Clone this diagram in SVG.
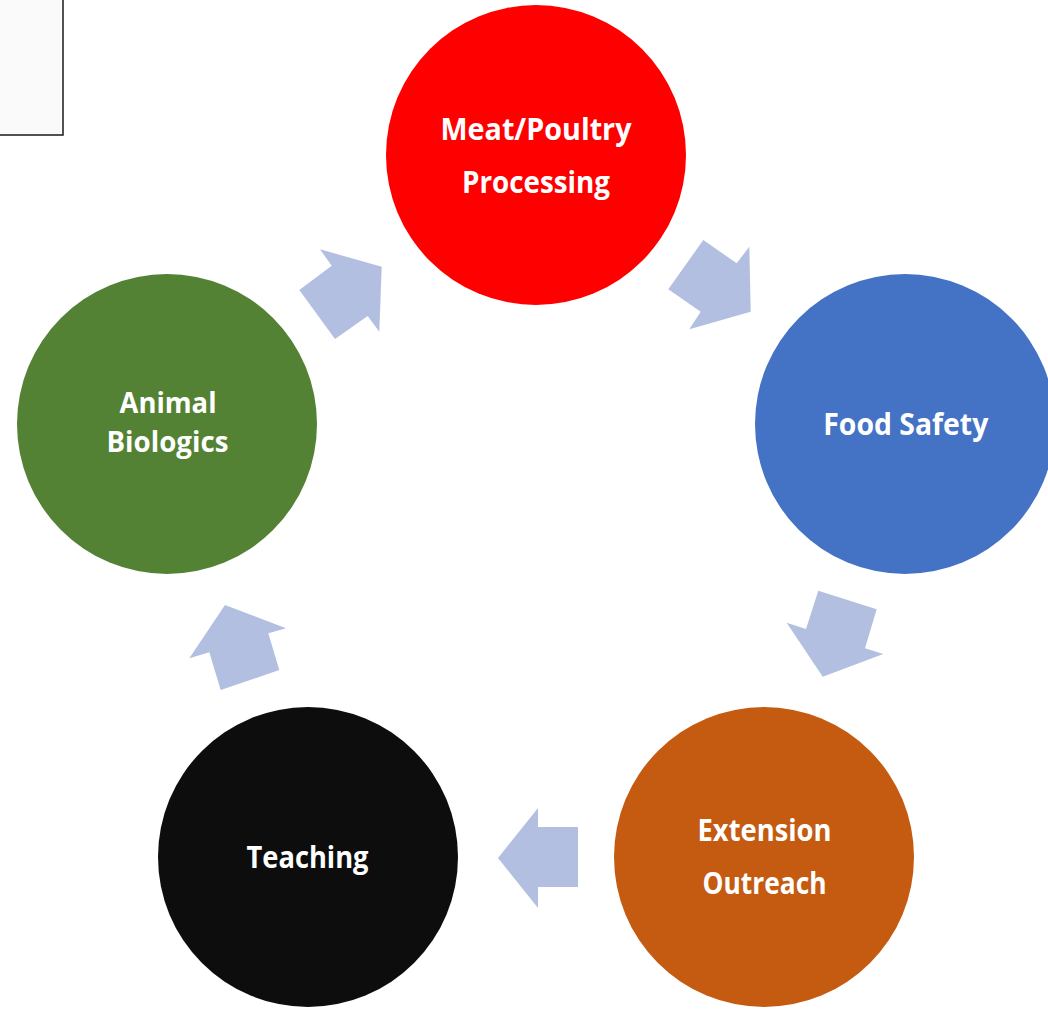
<svg xmlns="http://www.w3.org/2000/svg" width="1048" height="1009" viewBox="0 0 1048 1009">
<style>
.lbl{font-family:"Open Sans","Noto Sans","DejaVu Sans",sans-serif;font-weight:bold;font-size:31px;fill:#ffffff;text-anchor:middle}
.sm{font-size:28px}
.arr{fill:#B2BFE0}
</style>
<rect x="0" y="0" width="1048" height="1009" fill="#ffffff"/>
<g id="corner-box">
<rect x="-2" y="-2" width="65" height="137" fill="#fafafa" stroke="#1a1a1a" stroke-width="1.5"/>
</g>
<g id="connectors">
<polygon class="arr" points="320,249.3 381.7,266.7 379.3,331.7 367.7,316 335,339 299.3,290 331.7,265.7"/>
<polygon class="arr" points="703.3,240 736.7,263.3 749.3,246.7 750.7,311.7 689.3,329.3 700.7,311.7 668.3,289.3"/>
<polygon class="arr" points="818.3,590.7 876.7,609.3 865,648.3 883.3,654 822.7,676.7 786.7,622.7 806,629"/>
<polygon class="arr" points="538,808 538,827 578,827 578,887 538,887 538,908 498,858"/>
<polygon class="arr" points="225,605 286,628.3 268.3,633.3 279.3,670 220.7,690 209.3,652.3 189.3,658.3"/>
</g>
<g id="node-meat">
<circle cx="536" cy="155" r="150" fill="#FF0000"/>
<text class="lbl"><tspan x="536" y="140" textLength="191" lengthAdjust="spacingAndGlyphs">Meat/Poultry</tspan><tspan x="536" y="193" textLength="148" lengthAdjust="spacingAndGlyphs">Processing</tspan></text>
</g>
<g id="node-food">
<circle cx="905" cy="424" r="150" fill="#4472C4"/>
<text class="lbl" x="905.8" y="435" textLength="165" lengthAdjust="spacingAndGlyphs">Food Safety</text>
</g>
<g id="node-extension">
<circle cx="764" cy="857" r="150" fill="#C55A11"/>
<text class="lbl"><tspan x="764.5" y="841" textLength="134" lengthAdjust="spacingAndGlyphs">Extension</tspan><tspan x="764.5" y="894" textLength="124" lengthAdjust="spacingAndGlyphs">Outreach</tspan></text>
</g>
<g id="node-teaching">
<circle cx="308" cy="857" r="150" fill="#0D0D0D"/>
<text class="lbl" x="307.5" y="868" textLength="122" lengthAdjust="spacingAndGlyphs">Teaching</text>
</g>
<g id="node-animal">
<circle cx="167" cy="424" r="150" fill="#548235"/>
<text class="lbl sm"><tspan x="168" y="413" textLength="97" lengthAdjust="spacingAndGlyphs">Animal</tspan><tspan x="167.5" y="452" textLength="122" lengthAdjust="spacingAndGlyphs">Biologics</tspan></text>
</g>
</svg>
